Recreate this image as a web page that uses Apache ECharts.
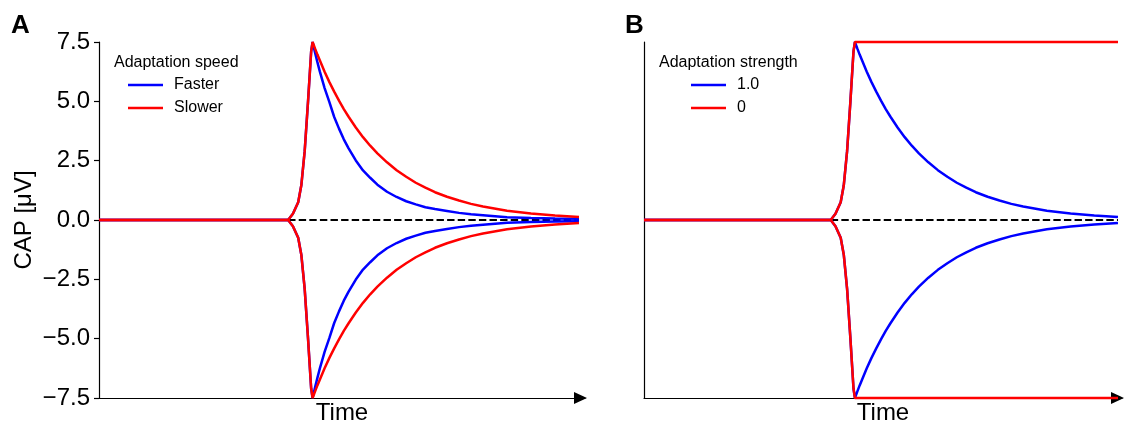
<!DOCTYPE html>
<html>
<head>
<meta charset="utf-8">
<script src="https://cdn.jsdelivr.net/npm/echarts@6/dist/echarts.min.js"></script>
<style>
  html, body { margin: 0; padding: 0; background: #fff; }
  #chart { width: 1130px; height: 426px; }
</style>
</head>
<body>
<div id="chart"></div>
<script>
// time samples (arbitrary units, 0 = left axis); stimulus peak at 44.5
var time = [0, 39.4, 40.4, 41.5, 42.15, 42.85, 43.55, 44.2, 44.5,
            45, 45.5, 46, 47, 48, 49, 50, 51, 52, 53.5, 55, 56.5, 58, 60,
            62, 64, 66, 68, 70, 72.5, 75, 77.5, 80, 85, 90, 95, 100];
// upper CAP branch (the lower branch mirrors it)
var faster  = [0, 0, 0.26, 0.75, 1.46, 2.9, 5.0, 7.1, 7.5,
               7.06, 6.65, 6.26, 5.56, 4.97, 4.34, 3.85, 3.40, 3.02, 2.51, 2.09, 1.78, 1.49, 1.19,
               0.97, 0.79, 0.66, 0.54, 0.46, 0.38, 0.30, 0.24, 0.20, 0.12, 0.08, 0.06, 0.05];
var slower  = [0, 0, 0.26, 0.75, 1.46, 2.9, 5.0, 7.1, 7.5,
               7.23, 6.97, 6.73, 6.25, 5.81, 5.41, 5.03, 4.67, 4.35, 3.90, 3.49, 3.13, 2.81, 2.43,
               2.10, 1.82, 1.57, 1.36, 1.17, 0.98, 0.82, 0.68, 0.57, 0.39, 0.27, 0.19, 0.13];
var noAdapt = [0, 0, 0.26, 0.75, 1.46, 2.9, 5.0, 7.1, 7.5,
               7.5, 7.5, 7.5, 7.5, 7.5, 7.5, 7.5, 7.5, 7.5, 7.5, 7.5, 7.5, 7.5, 7.5,
               7.5, 7.5, 7.5, 7.5, 7.5, 7.5, 7.5, 7.5, 7.5, 7.5, 7.5, 7.5, 7.5];
var zeroLine = [39.4, 100];
var yTicks = [-7.5, 7.5, 2.5];   // min, max, step

var font = 'Liberation Sans, Arial, sans-serif';
var BLUE = '#0000ff', RED = '#ff0000';

function pts(vals, sign) {
    return time.map(function (t, i) { return [t, sign * vals[i]]; });
}
function curve(name, color, vals, sign, idx) {
    return {
        name: name, type: 'line', xAxisIndex: idx, yAxisIndex: idx,
        data: pts(vals, sign), symbol: 'none', clip: false, silent: true,
        color: color, lineStyle: {color: color, width: 2.5}
    };
}
function dashed(idx) {
    return {
        type: 'line', xAxisIndex: idx, yAxisIndex: idx, symbol: 'none', silent: true,
        data: zeroLine.map(function (t) { return [t, 0]; }),
        lineStyle: {color: '#000', width: 2, type: [7.4, 3.2]}
    };
}
function xAx(idx, max) {
    return {
        gridIndex: idx, type: 'value', min: 0, max: max,
        name: 'Time', nameLocation: 'middle', nameGap: 3,
        nameTextStyle: {fontSize: 24, color: '#000', fontFamily: font},
        axisLine: {onZero: false, lineStyle: {color: '#000', width: 1.2},
                   symbol: ['none', 'triangle'], symbolSize: [12, 13], symbolOffset: [0, -4.5]},
        axisTick: {show: false}, axisLabel: {show: false}, splitLine: {show: false}
    };
}
function yAx(idx, labels) {
    return {
        gridIndex: idx, type: 'value', min: yTicks[0], max: yTicks[1], interval: yTicks[2],
        name: labels ? 'CAP [μV]' : '', nameLocation: 'middle', nameGap: 63, nameRotate: 90,
        nameTextStyle: {fontSize: 24, color: '#000', fontFamily: font},
        axisLine: {show: true, onZero: false, lineStyle: {color: '#000', width: 1.2}},
        axisTick: {show: labels, length: 5, lineStyle: {color: '#000', width: 1.2}},
        axisLabel: {show: labels, fontSize: 24, color: '#000', fontFamily: font, margin: 9,
                    formatter: function (v) { return v.toFixed(1).replace('-', '\u2212'); }},
        splitLine: {show: false}
    };
}
function legend(left, names) {
    return {
        data: names, orient: 'vertical', left: left, top: 77, padding: 0, icon: 'rect',
        itemWidth: 35, itemHeight: 2.5, itemGap: 7, selectedMode: false,
        textStyle: {fontSize: 16, lineHeight: 16, color: '#000', fontFamily: font, padding: [0, 0, 0, 6]}
    };
}
function label(text, left, top, size, weight) {
    return {text: text, left: left, top: top, padding: 0,
            textStyle: {fontSize: size, fontWeight: weight, color: '#000', fontFamily: font}};
}

var myChart = echarts.init(document.getElementById('chart'));
var option = {
    backgroundColor: '#fff',
    animation: false,
    title: [
        label('A', 11, 13, 26, 'bold'),
        label('B', 625, 13, 26, 'bold'),
        label('Adaptation speed', 114, 55, 16, 'normal'),
        label('Adaptation strength', 659, 55, 16, 'normal')
    ],
    grid: [
        {left: 99, top: 42, width: 486, height: 356, outerBoundsMode: 'none'},
        {left: 644, top: 42, width: 478, height: 356, outerBoundsMode: 'none'}
    ],
    legend: [legend(128, ['Faster', 'Slower']), legend(691, ['1.0', '0'])],
    xAxis: [xAx(0, 101.25), xAx(1, 100.85)],
    yAxis: [yAx(0, true), yAx(1, false)],
    series: [
        dashed(0),
        curve('Faster', BLUE, faster, 1, 0),
        curve('Faster', BLUE, faster, -1, 0),
        curve('Slower', RED, slower, 1, 0),
        curve('Slower', RED, slower, -1, 0),
        dashed(1),
        curve('1.0', BLUE, slower, 1, 1),
        curve('1.0', BLUE, slower, -1, 1),
        curve('0', RED, noAdapt, 1, 1),
        curve('0', RED, noAdapt, -1, 1)
    ]
};
myChart.setOption(option);
</script>
</body>
</html>
